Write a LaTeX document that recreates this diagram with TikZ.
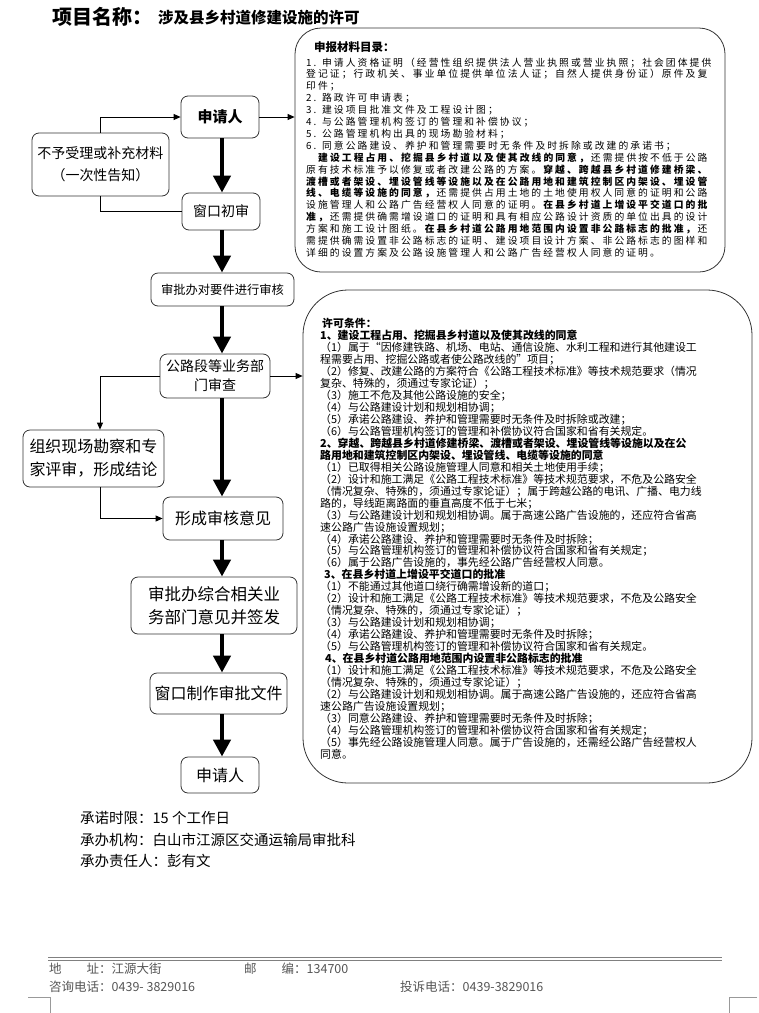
\documentclass[tikz,border=0pt]{standalone}
\usepackage{fontspec}
\setmainfont{Noto Sans CJK SC}
\newfontfamily\topfont[LetterSpace=21]{Noto Sans CJK SC}
\usetikzlibrary{arrows.meta,calc}
\definecolor{footgray}{HTML}{555555}
\definecolor{linegray}{HTML}{808080}
\tikzset{
  flow/.style={draw=black!80, line width=0.8pt, rounded corners=7pt, fill=white, align=center, inner sep=0pt},
  bigarr/.style={line width=4.5pt, -{Triangle[width=17pt,length=17pt]}},
  thinarr/.style={line width=0.8pt, -{Triangle[width=6pt,length=7pt]}},
  thinln/.style={line width=0.8pt},
  bigbox/.style={draw=black!80, line width=0.8pt, inner sep=0pt},
  txt/.style={anchor=north west, align=left, inner sep=0pt},
}
\begin{document}
\begin{tikzpicture}[x=1pt,y=-1pt]
\useasboundingbox (0,0) rectangle (759,1013);

% title
\node[anchor=west, inner sep=0pt, font=\fontsize{20}{20}\selectfont\bfseries] (t1) at (52,17) {项目名称：};
\node[anchor=west, inner sep=0pt, font=\fontsize{15.5}{15.5}\selectfont\bfseries] (t2) at (158,18) {涉及县乡村道修建设施的许可};

% big boxes
\node[bigbox, rounded corners=26pt, minimum width=430pt, minimum height=244pt] (req) at (510,150) {};
\node[bigbox, rounded corners=45pt, minimum width=449pt, minimum height=493pt] (cond) at (527.5,536.5) {};

% top box text
\node[anchor=west, inner sep=0pt, font=\fontsize{11.5}{11.5}\selectfont\bfseries] (reqtitle) at (314,47) {申报材料目录：};
\node[txt, font=\topfont\fontsize{9.8}{11.9}\selectfont] (reqtxt) at (306,57.5) {%
1. 申请人资格证明（经营性组织提供法人营业执照或营业执照；社会团体提供\\
登记证；行政机关、事业单位提供单位法人证；自然人提供身份证）原件及复\\
印件；\\
2. 路政许可申请表；\\
3. 建设项目批准文件及工程设计图；\\
4. 与公路管理机构签订的管理和补偿协议；\\
5. 公路管理机构出具的现场勘验材料；\\
6. 同意公路建设、养护和管理需要时无条件及时拆除或改建的承诺书；\\
\hspace*{12pt}\textbf{建设工程占用、挖掘县乡村道以及使其改线的同意，}还需提供按不低于公路\\
原有技术标准予以修复或者改建公路的方案。\textbf{穿越、跨越县乡村道修建桥梁、}\\
\textbf{渡槽或者架设、埋设管线等设施以及在公路用地和建筑控制区内架设、埋设管}\\
\textbf{线、电缆等设施的同意，}还需提供占用土地的土地使用权人同意的证明和公路\\
设施管理人和公路广告经营权人同意的证明。\textbf{在县乡村道上增设平交道口的批}\\
\textbf{准，}还需提供确需增设道口的证明和具有相应公路设计资质的单位出具的设计\\
方案和施工设计图纸。\textbf{在县乡村道公路用地范围内设置非公路标志的批准，}还\\
需提供确需设置非公路标志的证明、建设项目设计方案、非公路标志的图样和\\
详细的设置方案及公路设施管理人和公路广告经营权人同意的证明。};

% lower box text
\node[txt, font=\fontsize{10.9}{11.97}\selectfont] (condtxt) at (320,318) {%
\hspace*{2pt}\textbf{许可条件：}\\
\textbf{1、建设工程占用、挖掘县乡村道以及使其改线的同意}\\
（1）属于“因修建铁路、机场、电站、通信设施、水利工程和进行其他建设工\\
程需要占用、挖掘公路或者使公路改线的”项目；\\
（2）修复、改建公路的方案符合《公路工程技术标准》等技术规范要求（情况\\
复杂、特殊的，须通过专家论证）；\\
（3）施工不危及其他公路设施的安全；\\
（4）与公路建设计划和规划相协调；\\
（5）承诺公路建设、养护和管理需要时无条件及时拆除或改建；\\
（6）与公路管理机构签订的管理和补偿协议符合国家和省有关规定。\\
\textbf{2、穿越、跨越县乡村道修建桥梁、渡槽或者架设、埋设管线等设施以及在公}\\
\textbf{路用地和建筑控制区内架设、埋设管线、电缆等设施的同意}\\
（1）已取得相关公路设施管理人同意和相关土地使用手续；\\
（2）设计和施工满足《公路工程技术标准》等技术规范要求，不危及公路安全\\
（情况复杂、特殊的，须通过专家论证）；属于跨越公路的电讯、广播、电力线\\
路的，导线距离路面的垂直高度不低于七米；\\
（3）与公路建设计划和规划相协调。属于高速公路广告设施的，还应符合省高\\
速公路广告设施设置规划；\\
（4）承诺公路建设、养护和管理需要时无条件及时拆除；\\
（5）与公路管理机构签订的管理和补偿协议符合国家和省有关规定；\\
（6）属于公路广告设施的，事先经公路广告经营权人同意。\\
\hspace*{4pt}\textbf{3、在县乡村道上增设平交道口的批准}\\
（1）不能通过其他道口绕行确需增设新的道口；\\
（2）设计和施工满足《公路工程技术标准》等技术规范要求，不危及公路安全\\
（情况复杂、特殊的，须通过专家论证）；\\
（3）与公路建设计划和规划相协调；\\
（4）承诺公路建设、养护和管理需要时无条件及时拆除；\\
（5）与公路管理机构签订的管理和补偿协议符合国家和省有关规定。\\
\hspace*{5pt}\textbf{4、在县乡村道公路用地范围内设置非公路标志的批准}\\
（1）设计和施工满足《公路工程技术标准》等技术规范要求，不危及公路安全\\
（情况复杂、特殊的，须通过专家论证）；\\
（2）与公路建设计划和规划相协调。属于高速公路广告设施的，还应符合省高\\
速公路广告设施设置规划；\\
（3）同意公路建设、养护和管理需要时无条件及时拆除；\\
（4）与公路管理机构签订的管理和补偿协议符合国家和省有关规定；\\
（5）事先经公路设施管理人同意。属于广告设施的，还需经公路广告经营权人\\
同意。};

% flow nodes
\node[flow, minimum width=78pt, minimum height=42pt, font=\fontsize{15}{15}\selectfont\bfseries] (app1) at (220,117) {申请人};
\node[flow, minimum width=137pt, minimum height=63pt, font=\fontsize{14}{22}\selectfont] (reject) at (100.5,164.5) {不予受理或补充材料\\（一次性告知）};
\node[flow, minimum width=78pt, minimum height=37pt, font=\fontsize{14}{14}\selectfont] (win) at (221,211.5) {窗口初审};
\node[flow, minimum width=143pt, minimum height=33pt, font=\fontsize{12.3}{12.3}\selectfont] (check) at (222.5,289.5) {审批办对要件进行审核};
\node[flow, minimum width=110pt, minimum height=44pt, font=\fontsize{14}{19}\selectfont] (dept) at (215,376) {公路段等业务部\\门审查};
\node[flow, minimum width=141pt, minimum height=57pt, font=\fontsize{16}{23}\selectfont] (expert) at (93.5,458.5) {组织现场勘察和专\\家评审，形成结论};
\node[flow, minimum width=120pt, minimum height=43pt, font=\fontsize{16}{16}\selectfont] (opinion) at (223,518.5) {形成审核意见};
\node[flow, minimum width=166pt, minimum height=57pt, font=\fontsize{16.5}{23}\selectfont] (sign) at (214,605.5) {审批办综合相关业\\务部门意见并签发};
\node[flow, minimum width=137pt, minimum height=41pt, font=\fontsize{16}{16}\selectfont] (doc) at (218.5,693.5) {窗口制作审批文件};
\node[flow, minimum width=78pt, minimum height=36pt, font=\fontsize{16}{16}\selectfont] (app2) at (220,775) {申请人};

% main arrows
\coordinate (ax) at (222,0);
\coordinate (vx) at (100,0);
\draw[bigarr] (app1.south -| ax) -- (win.north -| ax);
\draw[bigarr] (win.south -| ax) -- (check.north -| ax);
\draw[bigarr] (check.south -| ax) -- (dept.north -| ax);
\draw[bigarr] (dept.south -| ax) -- (opinion.north -| ax);
\draw[bigarr] (opinion.south -| ax) -- (sign.north -| ax);
\draw[bigarr] (sign.south -| ax) -- (doc.north -| ax);
\draw[bigarr] (doc.south -| ax) -- (app2.north -| ax);

% thin connectors
\draw[thinarr] (reject.north) |- (app1.west);
\draw[thinln] (win.west) -| (reject.south);
\draw[thinarr] (app1.east) -- (app1.east -| req.west);
\draw[thinarr] (dept.east) -- (dept.east -| cond.west);
\draw[thinarr] (dept.west) -| (expert.north -| vx);
\draw[thinarr] (expert.south -| vx) |- (opinion.west);

% footer info
\node[anchor=west, inner sep=0pt, font=\fontsize{14.5}{14.5}\selectfont] (f1) at (80,818) {承诺时限：15 个工作日};
\node[anchor=west, inner sep=0pt, font=\fontsize{14.5}{14.5}\selectfont] (f2) at (80,840) {承办机构：白山市江源区交通运输局审批科};
\node[anchor=west, inner sep=0pt, font=\fontsize{14.5}{14.5}\selectfont] (f3) at (80,861) {承办责任人：彭有文};

% page footer
\draw[linegray, line width=0.8pt] (48,957.5) -- (722,957.5);
\draw[linegray, line width=0.8pt] (48,960.5) -- (722,960.5);
\node[anchor=west, inner sep=0pt, text=footgray, font=\fontsize{12.5}{12.5}\selectfont] (a1) at (49,969) {地\hspace{25pt}址：江源大街};
\node[anchor=west, inner sep=0pt, text=footgray, font=\fontsize{12.5}{12.5}\selectfont] (a2) at (244,969) {邮\hspace{25pt}编：134700};
\node[anchor=west, inner sep=0pt, text=footgray, font=\fontsize{12.5}{12.5}\selectfont] (a3) at (49,987) {咨询电话：0439- 3829016};
\node[anchor=west, inner sep=0pt, text=footgray, font=\fontsize{12.5}{12.5}\selectfont] (a4) at (400,987) {投诉电话：0439-3829016};
\draw[black!40, line width=0.6pt] (28,997) -- (50,997) -- (50,1013);
\draw[black!40, line width=0.6pt] (757,997) -- (729,997) -- (729,1013);
\end{tikzpicture}
\end{document}
